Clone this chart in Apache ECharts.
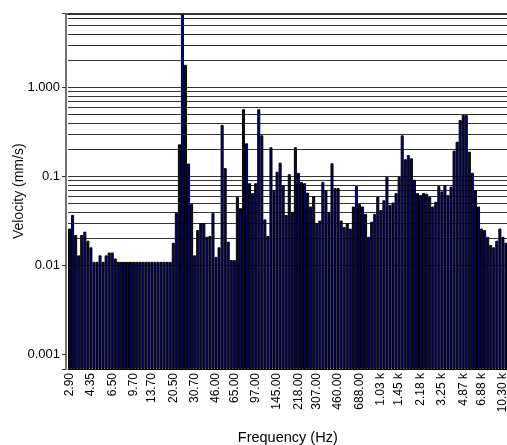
<!DOCTYPE html>
<html><head><meta charset="utf-8">
<script src="https://cdn.jsdelivr.net/npm/echarts@6/dist/echarts.min.js"></script>
<style>html,body{margin:0;padding:0;background:#fff}#c{width:507px;height:445px}</style>
</head><body><div id="c"></div>
<script>
// x tick labels (Hz) and the bar index each one sits under
const tickLabels = ['2.90','4.35','6.50','9.70','13.70','20.50','30.70','46.00','65.00','97.00','145.00','218.00','307.00','460.00','688.00','1.03 k','1.45 k','2.18 k','3.25 k','4.87 k','6.88 k','10.30 k'];
const tickIndex = [0,7,14,21,27,34,41,48,54,61,68,75,81,88,95,102,108,115,122,129,135,142];
// y tick labels
const yTickValues = [0.001, 0.01, 0.1, 1];
const yTickLabels = ['0.001', '0.01', '0.1', '1.000'];
// velocity per 1/12-octave band (mm/s)
const velocity = [
  0.026,0.037,0.022,0.013,0.022,0.024,0.019,0.016,0.011,0.011,
  0.013,0.011,0.013,0.014,0.014,0.012,0.011,0.011,0.011,0.011,
  0.011,0.011,0.011,0.011,0.011,0.011,0.011,0.011,0.011,0.011,
  0.011,0.011,0.011,0.011,0.018,0.039,0.23,6.6,1.8,0.14,
  0.049,0.013,0.025,0.030,0.030,0.021,0.0215,0.039,0.0125,0.016,
  0.38,0.124,0.0185,0.0115,0.0115,0.059,0.044,0.57,0.236,0.084,
  0.065,0.084,0.57,0.29,0.033,0.0215,0.213,0.070,0.113,0.143,
  0.080,0.037,0.106,0.040,0.213,0.110,0.087,0.084,0.066,0.046,
  0.060,0.030,0.032,0.087,0.070,0.040,0.141,0.074,0.074,0.032,
  0.027,0.030,0.026,0.046,0.078,0.049,0.046,0.038,0.021,0.031,
  0.038,0.059,0.042,0.054,0.099,0.048,0.051,0.065,0.099,0.29,
  0.156,0.174,0.160,0.092,0.065,0.062,0.065,0.064,0.059,0.046,
  0.052,0.078,0.068,0.080,0.062,0.077,0.195,0.246,0.43,0.49,
  0.49,0.19,0.110,0.070,0.046,0.026,0.025,0.021,0.017,0.016,
  0.019,0.026,0.021,0.018
];
const yMin = 0.000687, yMax = 6.78;

const categories = velocity.map((_, i) => String(i));
const labelMap = {};
tickIndex.forEach((idx, k) => { labelMap[String(idx)] = tickLabels[k]; });
const gridValues = [];
for (let d = -3; d <= 0; d++) for (let m = 1; m <= 9; m++) {
  const v = m * Math.pow(10, d);
  if (v >= yMin && v <= yMax) gridValues.push(+v.toPrecision(3));
}

const font = 'Liberation Sans, Arial, sans-serif';
const chart = echarts.init(document.getElementById('c'), null, {renderer: 'canvas'});
chart.setOption({
  animation: false,
  backgroundColor: '#fff',
  grid: {left: 68, top: 13.5, width: 439.5, height: 355.5, containLabel: false, outerBoundsMode: 'none'},
  xAxis: [{
    type: 'category', data: categories, boundaryGap: true,
    axisLine: {show: true, lineStyle: {color: '#000', width: 1}},
    axisTick: {show: false},
    axisLabel: {
      interval: (index) => tickIndex.indexOf(index) >= 0,
      rotate: 90, margin: 4, color: '#000', fontFamily: font, fontSize: 12,
      formatter: (v) => labelMap[v] || ''
    },
    name: 'Frequency (Hz)', nameLocation: 'middle', nameGap: 61, nameMoveOverlap: false,
    nameTextStyle: {color: '#000', fontFamily: font, fontSize: 14.5}
  }, {
    type: 'category', position: 'top', data: categories,
    axisLine: {show: true, lineStyle: {color: '#333', width: 2, type: [3, 1]}},
    axisTick: {show: false}, axisLabel: {show: false}
  }],
  yAxis: {
    type: 'log', logBase: 10, min: yMin, max: yMax, offset: 2, startValue: yMin,
    axisLine: {show: true, lineStyle: {color: '#444', width: 1.5}},
    axisTick: {show: true, length: 4, lineStyle: {color: '#333'}},
    splitLine: {show: false},
    axisLabel: {
      color: '#000', fontFamily: font, fontSize: 13, margin: 6,
      formatter: (v) => {
        for (let k = 0; k < yTickValues.length; k++) {
          if (Math.abs(Math.log10(v) - Math.log10(yTickValues[k])) < 1e-6) return yTickLabels[k];
        }
        return '';
      }
    },
    name: 'Velocity (mm/s)', nameLocation: 'middle', nameGap: 40, nameMoveOverlap: false,
    nameTextStyle: {color: '#111', fontFamily: font, fontSize: 14}
  },
  series: [{
    type: 'bar', data: velocity, barCategoryGap: '0%', z: 2,
    itemStyle: {color: '#00007c', borderColor: '#000', borderWidth: 1},
    markLine: {
      silent: true, symbol: 'none', z: 1, animation: false,
      label: {show: false},
      lineStyle: {color: '#333', width: 1, type: 'solid'},
      emphasis: {disabled: true},
      data: gridValues.map(v => ({yAxis: v}))
    }
  }]
});
</script></body></html>
